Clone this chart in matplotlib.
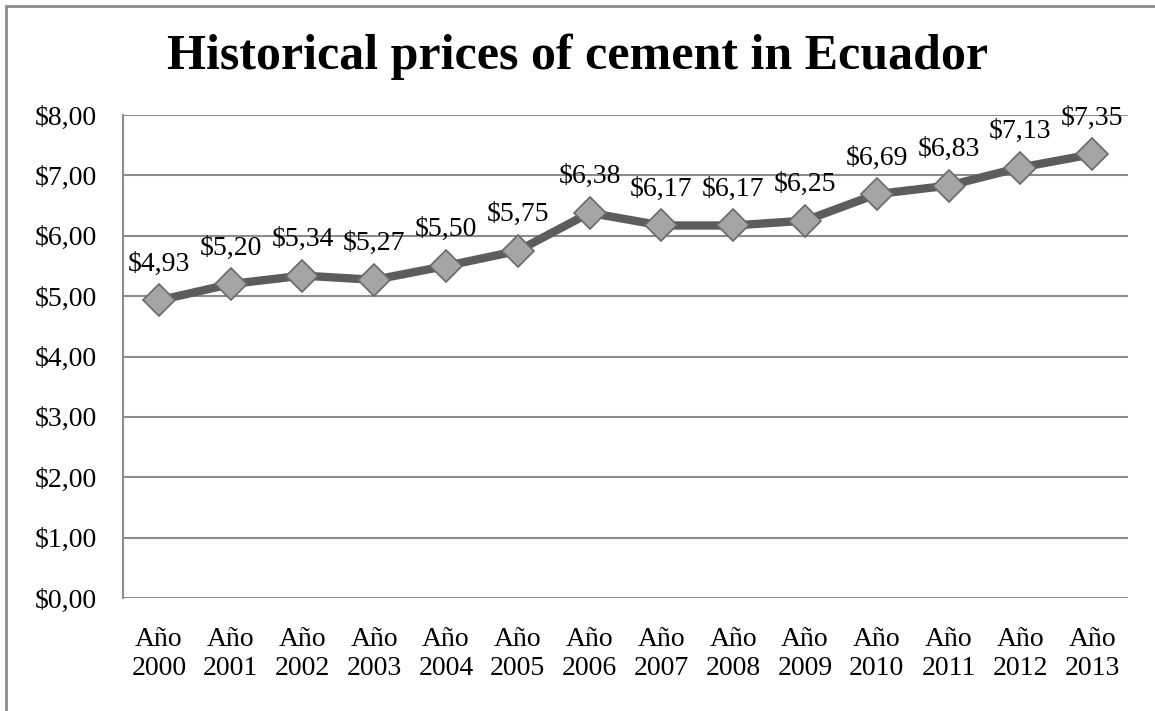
import matplotlib.pyplot as plt
from matplotlib.patches import Rectangle

years = ['2000', '2001', '2002', '2003', '2004', '2005', '2006',
         '2007', '2008', '2009', '2010', '2011', '2012', '2013']
prices = [4.93, 5.20, 5.34, 5.27, 5.50, 5.75, 6.38,
          6.17, 6.17, 6.25, 6.69, 6.83, 7.13, 7.35]
y_ticks = [0, 1, 2, 3, 4, 5, 6, 7, 8]

plt.rcParams['font.family'] = ['Liberation Serif', 'DejaVu Serif']

fig = plt.figure(figsize=(11.55, 7.11), dpi=100)
ax = fig.add_axes([123 / 1155, 1 - 598 / 711, 1005 / 1155, 483 / 711])

# outer chart border
fig.patches.append(Rectangle((6 / 1155, -0.05), 1.2, 1 - 6 / 711 + 0.05,
                             transform=fig.transFigure, fill=False,
                             edgecolor='#8c8c8c', linewidth=2))

x = list(range(len(years)))
ax.plot(x, prices, color='#5c5c5c', linewidth=6, marker='D', markersize=16,
        markerfacecolor='#a5a5a5', markeredgecolor='#6a6a6a',
        markeredgewidth=1.2, zorder=3)

for xi, p in zip(x, prices):
    label = '$' + f'{p:.2f}'.replace('.', ',')
    ax.annotate(label, (xi, p), xytext=(0, 26), textcoords='offset points',
                ha='center', va='center', fontsize=20)

ax.set_xlim(-0.5, len(years) - 0.5)
ax.set_ylim(0, 8)
ax.set_yticks(y_ticks)
ax.set_yticklabels(['$' + f'{v:.2f}'.replace('.', ',') for v in y_ticks],
                   fontsize=20)
ax.set_xticks(x)
ax.set_xticklabels(['Año\n' + yr for yr in years], fontsize=20,
                   linespacing=1.2)
ax.tick_params(axis='both', length=0)
ax.tick_params(axis='y', pad=19)
ax.tick_params(axis='x', pad=21)
ax.yaxis.grid(True, color='#8c8c8c', linewidth=1.5)
ax.set_axisbelow(True)
for side in ['top', 'right', 'bottom']:
    ax.spines[side].set_visible(False)
ax.spines['left'].set_color('#8c8c8c')
ax.spines['left'].set_linewidth(1.5)

fig.text(0.5, 1 - 57 / 711, 'Historical prices of cement in Ecuador',
         ha='center', va='center', fontsize=36, fontweight='bold')

plt.savefig('out.png', dpi=100)
